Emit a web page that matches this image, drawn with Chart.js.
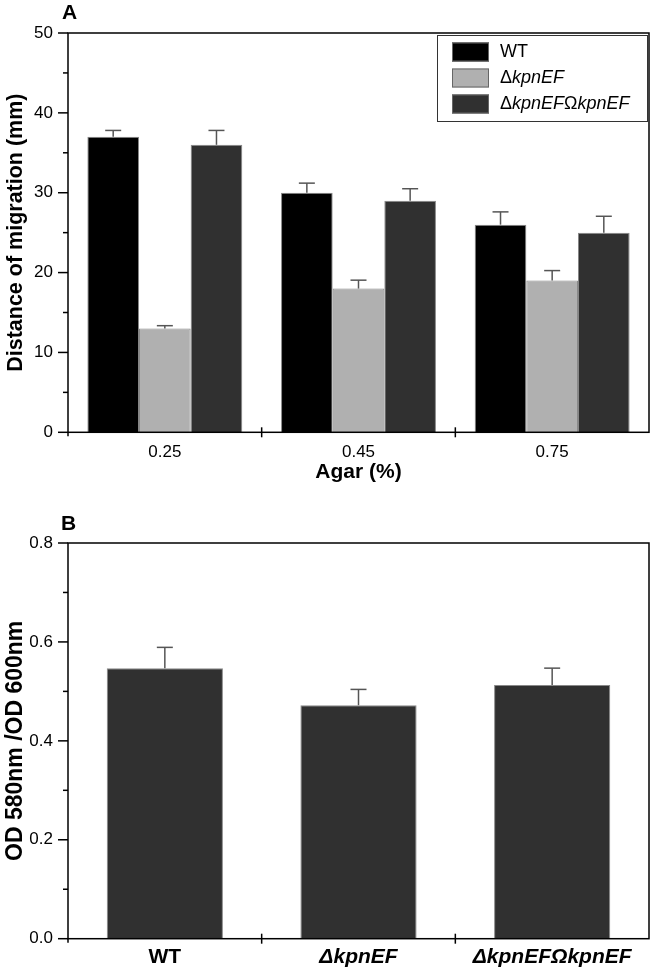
<!DOCTYPE html>
<html>
<head>
<meta charset="utf-8">
<script src="https://cdn.jsdelivr.net/npm/chart.js@4.4.1/dist/chart.umd.min.js"></script>
<style>
  body { margin: 0; background: #fff; width: 650px; height: 971px; position: relative; overflow: hidden;
         font-family: "Liberation Sans", Arial, sans-serif; }
  .wrap { position: absolute; left: 0; width: 650px; }
  #wrapA { top: 0; height: 485px; }
  #wrapB { top: 485px; height: 486px; }
  .panel { position: absolute; font-weight: bold; font-size: 21px; line-height: 1; }
</style>
</head>
<body>
<div class="wrap" id="wrapA"><canvas id="chartA" width="650" height="485"></canvas></div>
<div class="wrap" id="wrapB"><canvas id="chartB" width="650" height="486"></canvas></div>
<div class="panel" style="left:62px;top:1px">A</div>
<div class="panel" style="left:61px;top:512px">B</div>
<script>
// panel A: migration distance per agar concentration
const agarLevels = ['0.25', '0.45', '0.75'];
const strains = ['WT', '\u0394kpnEF', '\u0394kpnEF\u03A9kpnEF'];
const wtDistance = [37, 30, 26];
const wtDistanceErr = [0.8, 1.2, 1.6];
const mutantDistance = [13, 18, 19];
const mutantDistanceErr = [0.35, 1.05, 1.25];
const compDistance = [36, 29, 25];
const compDistanceErr = [1.8, 1.5, 2.05];
const distanceTicks = [0, 10, 20, 30, 40, 50];

// panel B: OD ratio per strain
const odRatio = [0.547, 0.472, 0.513];
const odRatioErr = [0.042, 0.032, 0.034];
const odTicks = [0.0, 0.2, 0.4, 0.6, 0.8];

const FONT = '"Liberation Sans", Arial, sans-serif';
const strainColors = ['#000000', '#b0b0b0', '#303030'];

function line(ctx, x1, y1, x2, y2) {
  ctx.beginPath();
  ctx.moveTo(x1, y1);
  ctx.lineTo(x2, y2);
  ctx.stroke();
}

// error bars, frame, ticks
const decorations = {
  id: 'decorations',
  afterDatasetsDraw(chart) {
    const { ctx, chartArea: a, scales: { x, y } } = chart;
    ctx.save();
    ctx.strokeStyle = '#555';
    ctx.lineWidth = 1.5;
    chart.data.datasets.forEach((ds, di) => {
      chart.getDatasetMeta(di).data.forEach((bar, i) => {
        const top = y.getPixelForValue(ds.data[i] + ds.errors[i]);
        line(ctx, bar.x, bar.y, bar.x, top);
        line(ctx, bar.x - 8, top, bar.x + 8, top);
      });
    });
    ctx.strokeStyle = '#000';
    ctx.lineWidth = 1.5;
    ctx.strokeRect(a.left, a.top, a.right - a.left, a.bottom - a.top);
    line(ctx, a.left, a.bottom, a.left, a.bottom + 4);
    y.ticks.forEach((t, i) => {
      const py = y.getPixelForTick(i);
      const len = t.label !== '' ? 10 : 5;
      line(ctx, a.left - len, py, a.left, py);
    });
    for (let i = 0; i < x.ticks.length - 1; i++) {
      const px = (x.getPixelForTick(i) + x.getPixelForTick(i + 1)) / 2;
      line(ctx, px, a.bottom - 5, px, a.bottom + 5);
    }
    ctx.restore();
  }
};

// boxed legend with upright greek letters and italic gene names
const boxLegend = {
  id: 'boxLegend',
  afterDraw(chart) {
    const { ctx, chartArea: a } = chart;
    const w = 210, h = 86;
    const left = a.right - w - 2, top = a.top + 2;
    ctx.save();
    ctx.fillStyle = '#fff';
    ctx.fillRect(left, top, w, h);
    ctx.strokeStyle = '#333';
    ctx.lineWidth = 1;
    ctx.strokeRect(left + 0.5, top + 0.5, w, h);
    chart.data.datasets.forEach((ds, i) => {
      const cy = top + 17 + i * 26;
      ctx.fillStyle = ds.backgroundColor;
      ctx.fillRect(left + 15, cy - 9.5, 37, 19);
      ctx.strokeStyle = '#666';
      ctx.strokeRect(left + 15.5, cy - 9, 36, 18);
      let tx = left + 63;
      ctx.fillStyle = '#000';
      ctx.textBaseline = 'middle';
      for (const ch of ds.label) {
        const upright = ds.label === 'WT' || /[\u0394\u03A9]/.test(ch);
        ctx.font = (upright ? '' : 'italic ') + '18px ' + FONT;
        ctx.fillText(ch, tx, cy);
        tx += ctx.measureText(ch).width;
      }
    });
    ctx.restore();
  }
};

new Chart(document.getElementById('chartA'), {
  type: 'bar',
  data: {
    labels: agarLevels,
    datasets: [
      { label: strains[0], data: wtDistance, errors: wtDistanceErr, backgroundColor: strainColors[0] },
      { label: strains[1], data: mutantDistance, errors: mutantDistanceErr, backgroundColor: strainColors[1] },
      { label: strains[2], data: compDistance, errors: compDistanceErr, backgroundColor: strainColors[2] }
    ].map(d => Object.assign(d, { borderColor: '#888', borderWidth: 1, categoryPercentage: 0.8, barPercentage: 1 }))
  },
  options: {
    responsive: false,
    animation: false,
    layout: { padding: { top: 33, right: 1, left: 0, bottom: 0 } },
    plugins: { legend: { display: false }, tooltip: { enabled: false } },
    scales: {
      x: {
        grid: { display: false, drawTicks: false },
        border: { display: false },
        ticks: { color: '#000', padding: 10, font: { family: FONT, size: 17 } },
        title: { display: true, text: 'Agar (%)', color: '#000', padding: { top: 0, bottom: 0 },
                 font: { family: FONT, size: 21, weight: 'bold' } },
        afterFit(s) { s.height = 52.7; }
      },
      y: {
        min: 0, max: 50,
        grid: { display: false, drawTicks: false },
        border: { display: false },
        ticks: {
          stepSize: 5, color: '#000', padding: 15, autoSkip: false,
          font: { family: FONT, size: 17 },
          callback: v => distanceTicks.includes(v) ? String(v) : ''
        },
        title: { display: true, text: 'Distance of migration (mm)', color: '#000', padding: { top: 3, bottom: 0 },
                 font: { family: FONT, size: 21.5, weight: 'bold' } },
        afterFit(s) { s.width = 68; }
      }
    }
  },
  plugins: [decorations, boxLegend]
});

new Chart(document.getElementById('chartB'), {
  type: 'bar',
  data: {
    labels: strains,
    datasets: [
      { label: 'OD ratio', data: odRatio, errors: odRatioErr, backgroundColor: '#303030',
        borderColor: '#888', borderWidth: 1, categoryPercentage: 0.6, barPercentage: 1 }
    ]
  },
  options: {
    responsive: false,
    animation: false,
    layout: { padding: { top: 58, right: 1, left: 0, bottom: 0 } },
    plugins: { legend: { display: false }, tooltip: { enabled: false } },
    scales: {
      x: {
        grid: { display: false, drawTicks: false },
        border: { display: false },
        ticks: {
          color: '#000', padding: 6,
          font: c => ({ family: FONT, size: 21, weight: 'bold', style: c.index === 0 ? 'normal' : 'italic' })
        },
        afterFit(s) { s.height = 32.3; }
      },
      y: {
        min: 0, max: 0.8,
        grid: { display: false, drawTicks: false },
        border: { display: false },
        ticks: {
          stepSize: 0.1, color: '#000', padding: 15, autoSkip: false,
          font: { family: FONT, size: 17 },
          callback: v => odTicks.some(t => Math.abs(t - v) < 1e-6) ? v.toFixed(1) : ''
        },
        title: { display: true, text: 'OD 580nm /OD 600nm', color: '#000', padding: { top: 2, bottom: 0 },
                 font: { family: FONT, size: 23, weight: 'bold' } },
        afterFit(s) { s.width = 68; }
      }
    }
  },
  plugins: [decorations]
});
</script>
</body>
</html>
